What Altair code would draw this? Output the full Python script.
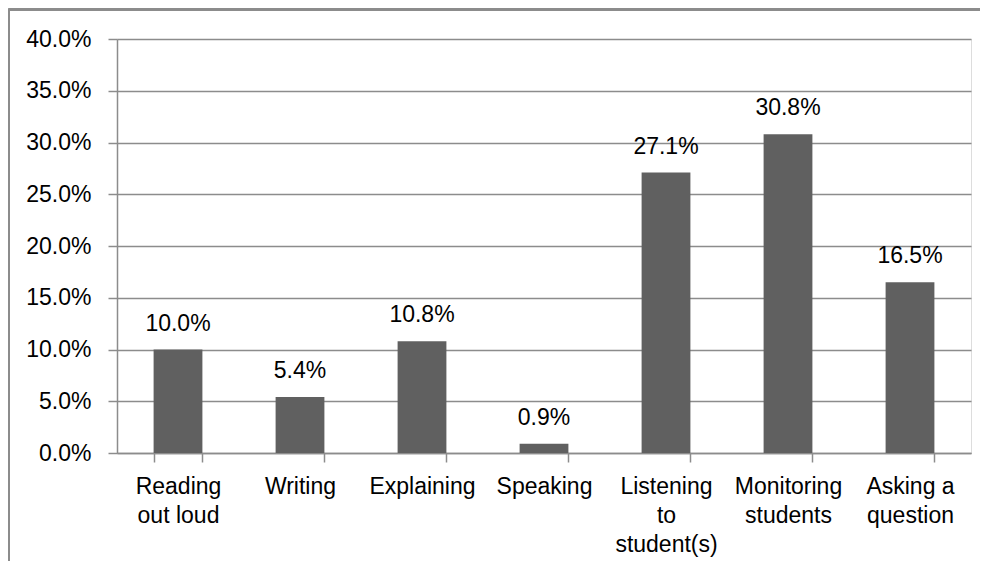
import altair as alt
import pandas as pd

categories = ["Reading|out loud", "Writing", "Explaining", "Speaking",
              "Listening|to|student(s)", "Monitoring|students", "Asking a|question"]
values = [0.100, 0.054, 0.108, 0.009, 0.271, 0.308, 0.165]
y_ticks = [0.0, 0.05, 0.10, 0.15, 0.20, 0.25, 0.30, 0.35, 0.40]

df = pd.DataFrame({"cat": categories, "val": values})

FONT = "Liberation Sans"
FS = 23
GRID = "#8c8c8c"

x_enc = alt.X("cat:N", sort=categories, title=None,
              scale=alt.Scale(paddingInner=0.6, paddingOuter=0.3),
              axis=alt.Axis(labelAngle=0, labelExpr="split(datum.label, '|')",
                            labelFont=FONT, labelFontSize=FS, labelColor="black",
                            labelLineHeight=29, labelPadding=13, labelBaseline="top",
                            tickBand="extent", tickSize=9, tickColor=GRID, tickWidth=1.5,
                            domainColor=GRID, domainWidth=1.5, grid=False))
y_enc = alt.Y("val:Q", title=None,
              scale=alt.Scale(domain=[0, 0.4], nice=False),
              axis=alt.Axis(values=y_ticks, format=".1%", labelFont=FONT, labelFontSize=FS,
                            labelColor="black", labelPadding=17, tickSize=9,
                            tickColor=GRID, tickWidth=1.5, domainColor=GRID, domainWidth=1.5,
                            grid=True, gridColor=GRID, gridWidth=1.5))

bars = alt.Chart(df).mark_bar(color="#606060").encode(x=x_enc, y=y_enc)
labels = alt.Chart(df).mark_text(font=FONT, fontSize=FS, color="black",
                                 baseline="bottom", dy=-14).encode(
    x=alt.X("cat:N", sort=categories), y="val:Q", text=alt.Text("val:Q", format=".1%"))

frame_left = alt.Chart(df).mark_rule(color=GRID, strokeWidth=2).encode(
    x=alt.value(-108.5), y=alt.value(-29.5), y2=alt.value(560))
frame_top = alt.Chart(df).mark_rule(color=GRID, strokeWidth=2).encode(
    x=alt.value(-108.5), x2=alt.value(900), y=alt.value(-29.5))

chart = alt.layer(bars, labels, frame_left, frame_top).properties(
    width=854, height=414,
    autosize=alt.AutoSizeParams(type="none"),
    padding={"left": 109, "top": 31, "right": 9, "bottom": 108},
).configure_view(stroke=None).configure(background="white")

chart.save("out.html", embed_options={"renderer": "svg", "actions": False})
